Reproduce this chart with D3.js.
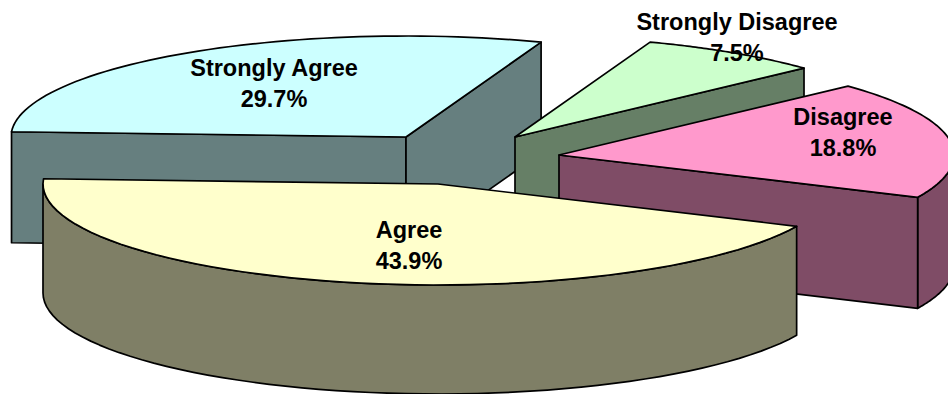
<!DOCTYPE html>
<html>
<head>
<meta charset="utf-8">
<script src="https://cdn.jsdelivr.net/npm/d3@7/dist/d3.min.js"></script>
<style>
html,body{margin:0;padding:0;background:#fff;overflow:hidden}
svg{display:block}
text{font-family:"Liberation Sans",Arial,sans-serif;font-weight:bold;font-size:23.5px;fill:#000;text-anchor:middle}
</style>
</head>
<body>
<svg id="chart" width="948" height="394"></svg>
<script>
// Data, clockwise from the slice at the back of the pie
const categories = ["Strongly Disagree", "Disagree", "Agree", "Strongly Agree"];
const values = [7.5, 18.8, 43.9, 29.7];
const valueLabels = ["7.5%", "18.8%", "43.9%", "29.7%"];

// Styling and layout
const topColors = ["#CCFFCC", "#FF99CC", "#FFFFCC", "#CCFFFF"];
const sideColors = ["#667F66", "#7F4C66", "#7F7F66", "#667F7F"];
const apexX = [515, 559, 438, 406];
const apexY = [137, 155, 184, 137];
const labelX = [737, 843, 409, 274];
const labelY = [30, 125, 238, 76];
const depths = [110, 111, 109, 111];
const drawOrder = [3, 0, 1, 2];
const rx = 395, ry = 101, start = 20 * Math.PI / 180;

const svg = d3.select("#chart");
const arcs = d3.pie().sort(null).startAngle(start).endAngle(start + 2 * Math.PI)(values);

// Unit circle -> screen projection for a tilted pie
const sx = d3.scaleLinear().domain([-1, 1]).range([-rx, rx]);
const sy = d3.scaleLinear().domain([-1, 1]).range([-ry, ry]);
const rim = (i, t, dz = 0) => [apexX[i] + sx(Math.sin(t)), apexY[i] + sy(-Math.cos(t)) + dz];
const samples = (a, b) => d3.range(0, 61).map(k => a + (b - a) * k / 60);
const line = d3.line();

function draw(g, pts, fill) {
  g.append("path").attr("d", line(pts) + "Z").attr("fill", fill)
    .attr("stroke", "#000").attr("stroke-width", 1.7).attr("stroke-linejoin", "round");
}

drawOrder.forEach(i => {
  const a = arcs[i], g = svg.append("g"), depth = depths[i];
  const s = a.startAngle, e = a.endAngle, apex = [apexX[i], apexY[i]];
  const apexLow = [apex[0], apex[1] + depth];

  // outer wall: only the part on the near half of the rim
  for (const [lo, hi] of [[Math.PI / 2, 3 * Math.PI / 2], [2.5 * Math.PI, 3.5 * Math.PI]]) {
    const p = Math.max(s, lo), q = Math.min(e, hi);
    if (p < q) {
      const ts = samples(p, q);
      draw(g, ts.map(t => rim(i, t)).concat(ts.slice().reverse().map(t => rim(i, t, depth))), sideColors[i]);
    }
  }
  // radial walls, when they face the viewer
  if (Math.sin(s) < 0) draw(g, [apex, rim(i, s), rim(i, s, depth), apexLow], sideColors[i]);
  if (Math.sin(e) > 0) draw(g, [apex, rim(i, e), rim(i, e, depth), apexLow], sideColors[i]);
  // top face
  draw(g, [apex].concat(samples(s, e).map(t => rim(i, t))), topColors[i]);
});

// Labels on top of everything
categories.forEach((c, i) => {
  const t = svg.append("text").attr("x", labelX[i]).attr("y", labelY[i]);
  t.append("tspan").attr("x", labelX[i]).text(c);
  t.append("tspan").attr("x", labelX[i]).attr("dy", 31).text(valueLabels[i]);
});
</script>
</body>
</html>
